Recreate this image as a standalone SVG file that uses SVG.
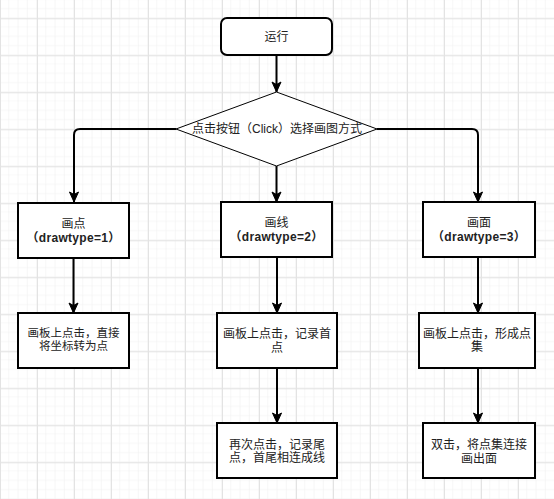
<svg xmlns="http://www.w3.org/2000/svg" width="554" height="499" viewBox="0 0 554 499">
<defs>
<pattern id="minor" width="9.25" height="9.25" patternUnits="userSpaceOnUse" x="0" y="0">
<path d="M9.25 0V9.25H0" fill="none" stroke="#efefef" stroke-width="1"/>
</pattern>
<pattern id="major" width="37" height="37" patternUnits="userSpaceOnUse" x="0" y="18.3">
<rect width="37" height="37" fill="url(#minor)"/>
<path d="M0 0.5H37M0.5 0V37" fill="none" stroke="#e3e3e3" stroke-width="1"/>
</pattern>
<marker id="arr" markerUnits="userSpaceOnUse" markerWidth="12" markerHeight="12" viewBox="0 0 12 12" refX="11" refY="6" orient="auto">
<path d="M1 1.5L11 6L1 10.5L3.5 6Z" fill="#000" stroke="#000" stroke-width="1"/>
</marker>
<style>
.box{fill:#fff;stroke:#000;stroke-width:2}
.dia{fill:#fff;stroke:#000;stroke-width:1}
.edge{fill:none;stroke:#000;stroke-width:2;marker-end:url(#arr)}
text{font-family:"Liberation Sans","Noto Sans CJK SC",sans-serif;font-size:12px;fill:#222;text-anchor:middle;dominant-baseline:central}
.b{font-weight:bold;letter-spacing:0.3px}
.s{font-size:11.5px}
</style>
</defs>
<rect width="554" height="499" fill="#fff"/>
<rect width="554" height="499" fill="url(#major)"/>

<g id="connectors">
<path class="edge" d="M276.5 55V92"/>
<path class="edge" d="M176 129H80Q74 129 74 135V202"/>
<path class="edge" d="M276.5 166V202"/>
<path class="edge" d="M377 129H472Q478 129 478 135V202"/>
<path class="edge" d="M73.5 258V313"/>
<path class="edge" d="M277 257V313"/>
<path class="edge" d="M277 368V423"/>
<path class="edge" d="M478 257V313"/>
<path class="edge" d="M478 368V423"/>
</g>

<g id="start">
<rect class="box" x="221" y="18" width="111" height="37" rx="6"/>
<text x="276.5" y="36.5">运行</text>
</g>
<g id="choose">
<path class="dia" d="M276.5 92L377 129L276.5 166L176 129Z"/>
<text x="277" y="129">点击按钮（Click）选择画图方式</text>
</g>

<g id="point">
<rect class="box" x="18" y="203" width="111" height="55"/>
<text x="73.5" y="223.5">画点</text>
<text class="b" x="73.5" y="237.5">（drawtype=1）</text>
</g>
<g id="line">
<rect class="box" x="221" y="202" width="111" height="55"/>
<text x="276.5" y="223">画线</text>
<text class="b" x="276.5" y="237">（drawtype=2）</text>
</g>
<g id="face">
<rect class="box" x="423" y="202" width="112" height="55"/>
<text x="479" y="223">画面</text>
<text class="b" x="479" y="237">（drawtype=3）</text>
</g>

<g id="point-click">
<rect class="box" x="18" y="313" width="111" height="55"/>
<text class="s" x="73.5" y="332.5">画板上点击，直接</text>
<text class="s" x="73.5" y="345.5">将坐标转为点</text>
</g>
<g id="line-first">
<rect class="box" x="217" y="313" width="120" height="55"/>
<text x="277" y="334">画板上点击，记录首</text>
<text x="277" y="348">点</text>
</g>
<g id="face-click">
<rect class="box" x="419" y="313" width="116" height="55"/>
<text x="477" y="334">画板上点击，形成点</text>
<text x="477" y="347">集</text>
</g>

<g id="line-second">
<rect class="box" x="217" y="423" width="120" height="55"/>
<text x="277" y="444.5">再次点击，记录尾</text>
<text x="277" y="458">点，首尾相连成线</text>
</g>
<g id="face-dbl">
<rect class="box" x="423" y="423" width="112" height="55"/>
<text x="479" y="445">双击，将点集连接</text>
<text x="479" y="458.5">画出面</text>
</g>
</svg>
